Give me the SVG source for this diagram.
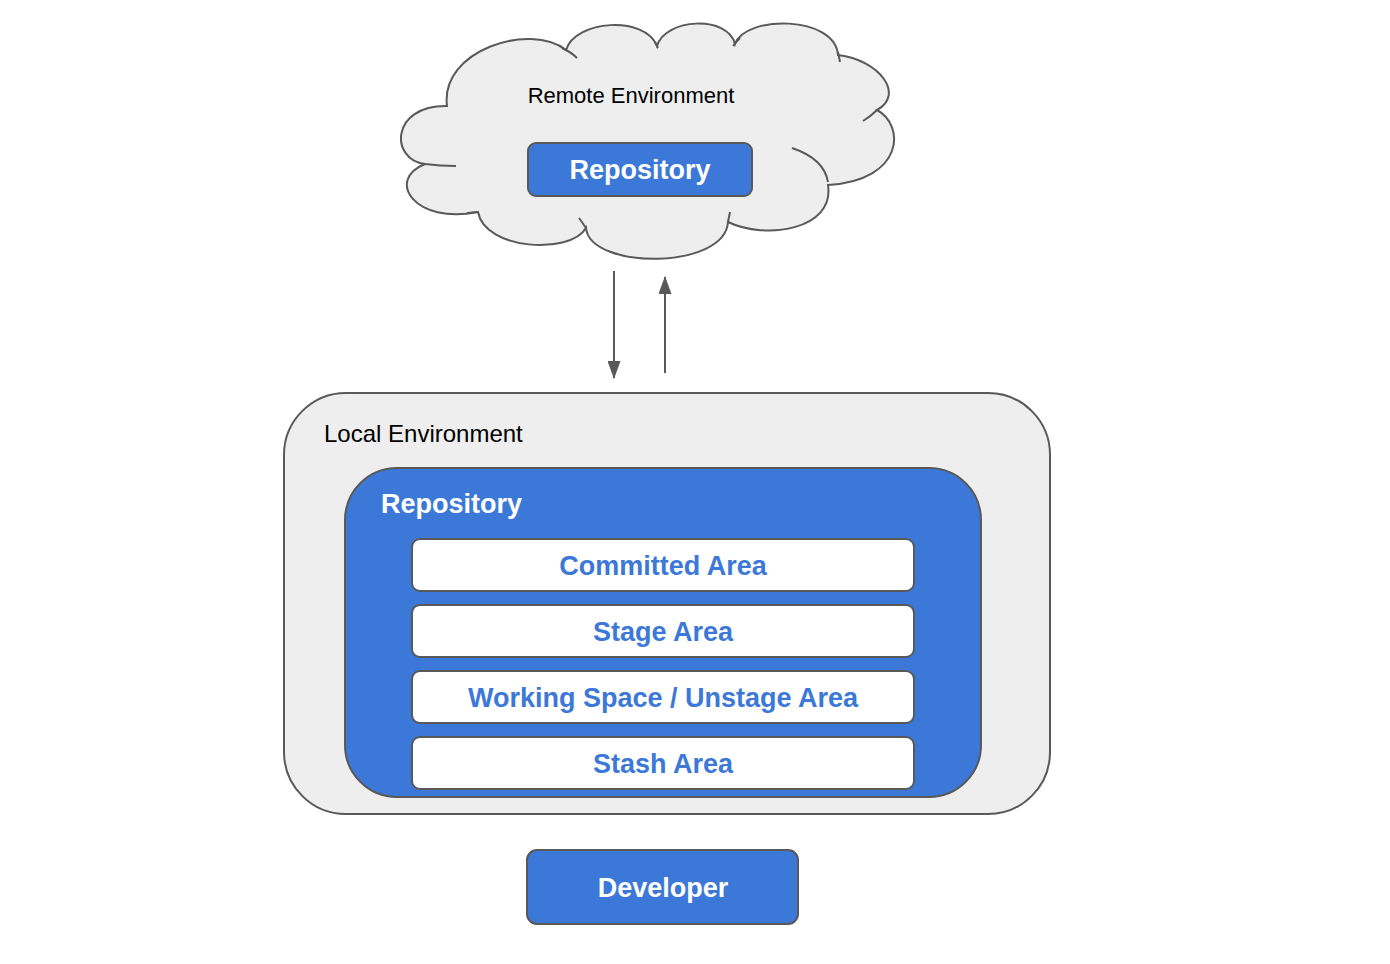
<svg xmlns="http://www.w3.org/2000/svg" width="1390" height="964" viewBox="0 0 1390 964">
<defs>
<style>
.ln{fill:none;stroke:#595959;stroke-width:2}
.env{fill:#eeeeee;stroke:#595959;stroke-width:2}
.blue{fill:#3c78d8;stroke:#595959;stroke-width:2}
.white{fill:#ffffff;stroke:#595959;stroke-width:2}
.lbl{font-family:"Liberation Sans",Arial,sans-serif;font-size:22px;fill:#000000}
.bw{font-family:"Liberation Sans",Arial,sans-serif;font-size:27px;font-weight:bold;fill:#ffffff}
.bb{font-family:"Liberation Sans",Arial,sans-serif;font-size:27px;font-weight:bold;fill:#3c78d8;text-anchor:middle}
</style>
<marker id="ah" viewBox="0 0 18 13" refX="17" refY="6.5" markerWidth="9" markerHeight="6.5" markerUnits="strokeWidth" orient="auto">
<path d="M0,0 L18,6.5 L0,13 Z" fill="#595959"/>
</marker>
</defs>
<rect width="1390" height="964" fill="#ffffff"/>
<g id="remote">
<path class="env" d="M447,106 C440,50 530,22 566,50 C575,20 645,15 657,46 C665,18 728,15 735,44 C745,15 835,15 838,55 C880,60 905,95 877,110 C905,125 905,180 828,185 C835,230 765,240 728,222 C725,270 590,270 586,228 C570,255 485,250 478,212 C415,225 385,180 425,164 C390,160 390,105 447,106 Z"/>
<path class="ln" d="M425,164 Q440,166 456,166 M562,48 Q571,52 577,58 M655,42 L658,48 M740,38 Q736,42 733,46 M838,52 L840,62 M877,110 Q870,117 863,121 M792,148 C810,154 825,165 828,182 M728,222 L730,212 M586,228 Q582,222 579,218 M478,212 L467,213"/>
<text class="lbl" x="631" y="103" text-anchor="middle">Remote Environment</text>
</g>
<g id="remote-repo">
<rect class="blue" x="528" y="143" width="224" height="53" rx="8"/>
<text class="bw" x="640" y="179" text-anchor="middle">Repository</text>
</g>
<g id="connectors">
<line class="ln" x1="614" y1="271" x2="614" y2="378" marker-end="url(#ah)"/>
<line class="ln" x1="665" y1="373" x2="665" y2="277" marker-end="url(#ah)"/>
</g>
<g id="local">
<rect class="env" x="284" y="393" width="766" height="421" rx="62"/>
<text class="lbl" x="324" y="442" style="font-size:24px">Local Environment</text>
</g>
<g id="local-repo">
<rect class="blue" x="345" y="468" width="636" height="329" rx="52"/>
<text class="bw" x="381" y="513">Repository</text>
</g>
<g id="committed">
<rect class="white" x="412" y="539" width="502" height="52" rx="8"/>
<text class="bb" x="663" y="575">Committed Area</text>
</g>
<g id="stage">
<rect class="white" x="412" y="605" width="502" height="52" rx="8"/>
<text class="bb" x="663" y="641">Stage Area</text>
</g>
<g id="working">
<rect class="white" x="412" y="671" width="502" height="52" rx="8"/>
<text class="bb" x="663" y="707">Working Space / Unstage Area</text>
</g>
<g id="stash">
<rect class="white" x="412" y="737" width="502" height="52" rx="8"/>
<text class="bb" x="663" y="773">Stash Area</text>
</g>
<g id="developer">
<rect class="blue" x="527" y="850" width="271" height="74" rx="10"/>
<text class="bw" x="663" y="897" text-anchor="middle">Developer</text>
</g>
</svg>
